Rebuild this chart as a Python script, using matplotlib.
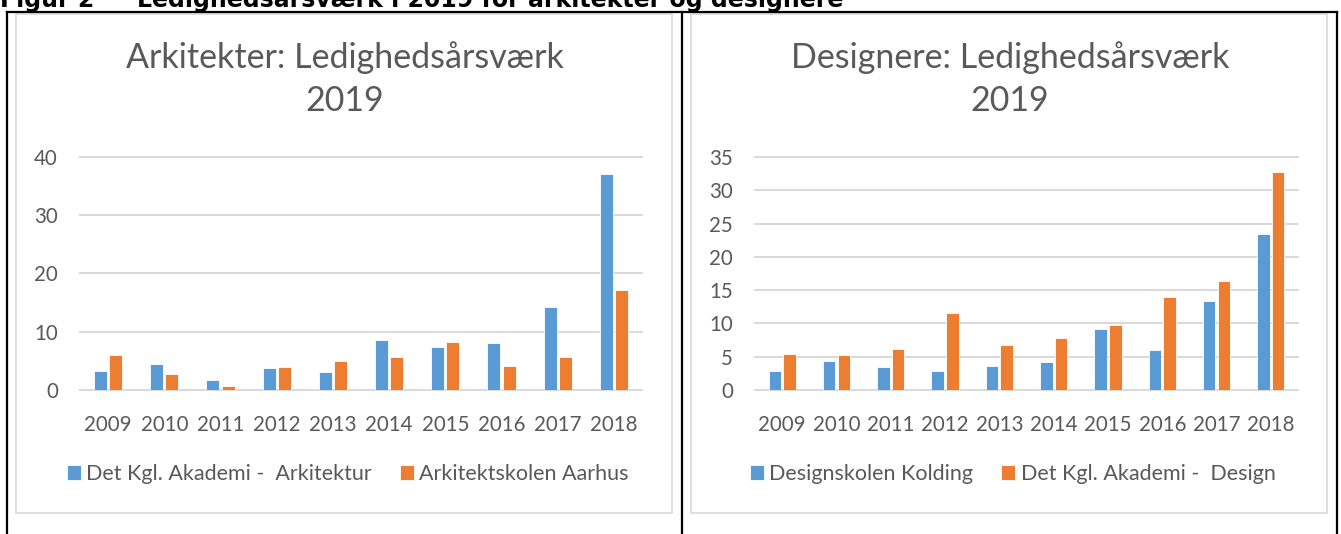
import matplotlib
matplotlib.use("Agg")
import matplotlib.pyplot as plt
from matplotlib.patches import Rectangle
from matplotlib.lines import Line2D
import numpy as np

years = ["2009", "2010", "2011", "2012", "2013", "2014", "2015", "2016", "2017", "2018"]

ark_title = "Arkitekter: Ledighedsårsværk\n2019"
ark_names = ["Det Kgl. Akademi -  Arkitektur", "Arkitektskolen Aarhus"]
ark_kgl = [3.3, 4.5, 1.7, 3.8, 3.1, 8.5, 7.4, 8.0, 14.3, 37.1]
ark_aarhus = [6.0, 2.8, 0.7, 4.0, 4.9, 5.6, 8.3, 4.2, 5.7, 17.2]
ark_ticks = [0, 10, 20, 30, 40]

des_title = "Designere: Ledighedsårsværk\n2019"
des_names = ["Designskolen Kolding", "Det Kgl. Akademi -  Design"]
des_kolding = [2.8, 4.4, 3.4, 2.9, 3.6, 4.2, 9.1, 6.0, 13.3, 23.4]
des_kgl = [5.4, 5.2, 6.2, 11.5, 6.7, 7.8, 9.7, 14.0, 16.4, 32.8]
des_ticks = [0, 5, 10, 15, 20, 25, 30, 35]

fig_title_a = "Figur 2"
fig_title_b = "Ledighedsårsværk i 2019 for arkitekter og designere"

BLUE = "#5B9BD5"
ORANGE = "#ED7D31"
GRID = "#D9D9D9"
TXT = "#595959"
FONT = "Lato"

W, H = 1341, 534
fig = plt.figure(figsize=(W / 100, H / 100), dpi=100)

def fx(px):
    return px / W

def fy(py):
    return 1 - py / H

# chart boxes (behind axes)
for (x0, x1) in ((16, 672), (691, 1327)):
    fig.add_artist(Rectangle((fx(x0), fy(513)), fx(x1 - x0), (513 - 14) / H,
                             fill=True, facecolor="white", edgecolor=GRID, lw=1.2,
                             zorder=-5))

# outer table lines (black)
for x in (7, 682, 1337):
    fig.add_artist(Line2D([fx(x), fx(x)], [fy(12), fy(534)], color="black", lw=1.6, zorder=5))
fig.add_artist(Line2D([fx(7), fx(1337)], [fy(12), fy(12)], color="black", lw=1.6, zorder=5))

# clipped figure caption at very top (cut off in the reference too)
fig.text(fx(0), fy(7), fig_title_a, fontsize=17, fontweight="bold",
         family="DejaVu Sans", va="baseline", ha="left")
fig.text(fx(137), fy(7), fig_title_b, fontsize=17, fontweight="bold",
         family="DejaVu Sans", va="baseline", ha="left")


def draw(left_px, right_px, blue_vals, orange_vals, ticks, title, names,
         title_cx, leg_x):
    ax = fig.add_axes([fx(left_px), fy(390), fx(right_px - left_px), (390 - 157) / H])
    x = np.arange(len(years))
    bw = 0.23
    off = 0.135
    b1 = ax.bar(x - off, blue_vals, bw, color=BLUE, edgecolor="white", lw=0.6,
                label=names[0], zorder=3)
    b2 = ax.bar(x + off, orange_vals, bw, color=ORANGE, edgecolor="white", lw=0.6,
                label=names[1], zorder=3)
    ax.set_xlim(-0.5, len(years) - 0.5)
    ax.set_ylim(0, ticks[-1])
    ax.set_yticks(ticks)
    ax.set_xticks(x)
    ax.set_xticklabels(years)
    for t in ticks:
        ax.axhline(t, color=GRID, lw=1.4, zorder=1, clip_on=False)
    for s in ax.spines.values():
        s.set_visible(False)
    ax.tick_params(axis="both", length=0, labelsize=14.8, labelcolor=TXT)
    ax.tick_params(axis="y", pad=16)
    ax.tick_params(axis="x", pad=18)
    for lab in ax.get_xticklabels() + ax.get_yticklabels():
        lab.set_family(FONT)
    ax.patch.set_alpha(0)
    fig.text(fx(title_cx), fy(79), title, ha="center", va="center",
             fontsize=24.5, color=TXT, family=FONT, linespacing=1.45)
    leg = fig.legend(handles=[b1, b2], labels=names, loc="center left",
                     bbox_to_anchor=(fx(leg_x), fy(474)), ncol=2, frameon=False,
                     handlelength=0.65, handleheight=0.65, handletextpad=0.25,
                     columnspacing=1.3, prop={"family": FONT, "size": 15.5},
                     borderaxespad=0, borderpad=0)
    for t in leg.get_texts():
        t.set_color(TXT)
    return ax

draw(80, 642, ark_kgl, ark_aarhus, ark_ticks, ark_title, ark_names, 345, 67)
draw(755, 1298, des_kolding, des_kgl, des_ticks, des_title, des_names, 1010, 750)

fig.savefig("out.png", dpi=100)
